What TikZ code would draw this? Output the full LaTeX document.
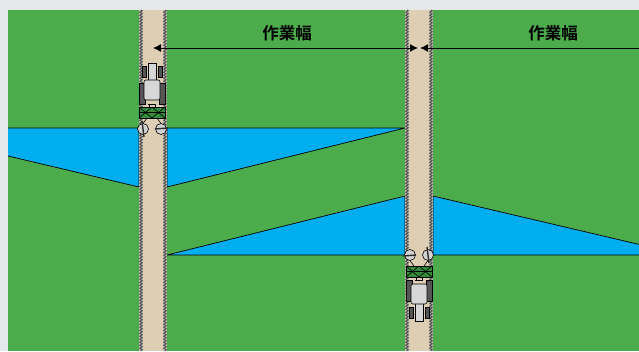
\documentclass[tikz,border=0pt]{standalone}
\usepackage{fontspec}
\newfontfamily\cjk{Noto Sans CJK JP}[BoldFont={Noto Sans CJK JP Bold}]
\usepackage{tikz}
\usetikzlibrary{arrows.meta, decorations.pathmorphing, positioning}
\definecolor{pagegrey}{RGB}{230,231,233}
\definecolor{fieldgreen}{RGB}{76,172,76}
\definecolor{trackbeige}{RGB}{221,206,180}
\definecolor{trackedge}{RGB}{185,180,170}
\definecolor{waterblue}{RGB}{0,174,239}
\definecolor{implgreen}{RGB}{50,138,58}
\definecolor{tyregrey}{RGB}{85,85,85}
\definecolor{bodygrey}{RGB}{215,215,215}

% tractor with mounted implement, driving towards -y
\tikzset{
  tractor/.pic={
    % discs
    \draw[line width=0.6pt, fill=gray!35] (-9,0) circle (5.5);
    \draw[line width=0.6pt, fill=gray!35] (9,0) circle (5.5);
    \draw[line width=1.4pt, gray!35!black] (-10,-8) -- (-8,8);
    \draw[line width=1.4pt, gray!35!black] (3,0) -- (16,-1);
    \draw[line width=0.6pt] (-9,-5.5) -- (-5,-11) (9,-5.5) -- (5,-11);
    % implement
    \draw[line width=0.6pt, fill=implgreen] (-13,-22) rectangle (13,-11);
    \draw[line width=0.6pt] (-13,-22) -- (0,-11) (-13,-11) -- (0,-22)
                (0,-22) -- (13,-11) (0,-11) -- (13,-22)
                (-13,-16.5) -- (13,-16.5);
    \draw[line width=0.6pt] (-3,-22) -- (-3,-25) (3,-22) -- (3,-25) (-4,-25) -- (4,-25);
    % rear wheels
    \draw[line width=0.6pt, fill=tyregrey] (-13,-46) rectangle (-7,-25);
    \draw[line width=0.6pt, fill=tyregrey] (7,-46) rectangle (13,-25);
    % front wheels
    \draw[line width=0.6pt, fill=tyregrey] (-10,-63) rectangle (-6,-52);
    \draw[line width=0.6pt, fill=tyregrey] (6,-63) rectangle (10,-52);
    % hood and cab
    \draw[line width=0.6pt, fill=bodygrey] (-4,-66) rectangle (4,-46);
    \draw[line width=0.6pt, fill=bodygrey, rounded corners=2pt] (-8,-49) rectangle (8,-29);
  }
}

\begin{document}
\begin{tikzpicture}[x=1pt, y=-1pt,
  tracksideline/.style={draw=gray!60!black, line width=0.8pt,
    decorate, decoration={zigzag, segment length=3pt, amplitude=1.3pt}},
  water/.style={fill=waterblue, draw=black, line width=0.7pt, line join=round},
  dimline/.style={line width=1pt, draw=black},
  wlabel/.style={font=\cjk\bfseries\fontsize{16.5}{16.5}\selectfont, inner sep=0pt}
]
  \useasboundingbox (0,0) rectangle (639,351);
  \clip (0,0) rectangle (639,351);
  \fill[pagegrey] (0,0) rectangle (639,351);
  \fill[fieldgreen] (8,10) rectangle (639,351);

  % sprayed strips
  \fill[waterblue] (8,128) -- (139,128) -- (139,187) -- (8,156) -- cycle;
  \draw[water, fill=none] (8,128) -- (139,128) -- (139,187) -- (8,156);
  \draw[water] (167,128) -- (405,128) -- (167,187) -- cycle;
  \draw[water] (167,255) -- (405,255) -- (405,196) -- cycle;
  \fill[waterblue] (433,196) -- (650,247) -- (650,255) -- (433,255) -- cycle;
  \draw[water, fill=none] (433,255) -- (433,196) -- (650,247) (433,255) -- (650,255);

  % tramlines
  \foreach \tx in {139, 405} {
    \fill[trackbeige] (\tx,10) rectangle ++(28,341);
    \fill[trackedge] (\tx,10) rectangle ++(4,341);
    \fill[trackedge] (\tx+24,10) rectangle ++(4,341);
    \draw[tracksideline] (\tx+2,10) -- (\tx+2,351);
    \draw[tracksideline] (\tx+26,10) -- (\tx+26,351);
  }

  % working width
  \node[wlabel] (wa) at (287,33) {作業幅};
  \node[wlabel] (wb) at (553,33) {作業幅};
  \coordinate (pa) at (153,48);
  \coordinate (pb) at (418,48);
  \coordinate (pc) at (420,48);
  \coordinate (pd) at (645,48);
  \draw[dimline, {Latex[length=8pt,width=8pt]}-{Latex[length=8pt,width=8pt]}] (pa) -- (pb);
  \draw[dimline, {Latex[length=8pt,width=8pt]}-] (pc) -- (pd);

  % tractors
  \pic at (152,129) {tractor};
  \pic[rotate=180] at (419,255) {tractor};
\end{tikzpicture}
\end{document}
